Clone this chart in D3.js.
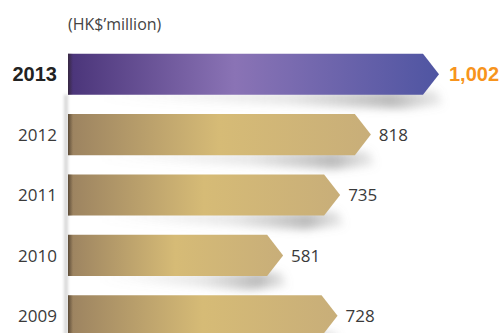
<!DOCTYPE html>
<html>
<head>
<meta charset="utf-8">
<script src="https://cdn.jsdelivr.net/npm/d3@7"></script>
<style>
  body { margin: 0; background: #fff; }
  #chart { width: 504px; height: 333px; overflow: hidden; }
  text { font-family: "Open Sans", "Noto Sans", sans-serif; }
</style>
</head>
<body>
<div id="chart"></div>
<script>
//Datos
const years = ['2013', '2012', '2011', '2010', '2009'];
const values = [1002, 818, 735, 581, 728];
const valueLabels = ['1,002', '818', '735', '581', '728'];
const unitLabel = "(HK$\u2019million)";

const width = 504, height = 333;
const REGULAR = '"Open Sans", "Noto Sans", sans-serif';
const BOLD = '"Liberation Sans", Arial, sans-serif';

let svg = d3.select('#chart')
    .append('svg')
    .attr('width', width)
    .attr('height', height);

let defs = svg.append('defs');

//Degradados
function addGradient(id, stops) {
    let g = defs.append('linearGradient')
        .attr('id', id)
        .attr('x1', '0%').attr('x2', '100%')
        .attr('y1', '0%').attr('y2', '0%');
    stops.forEach(function(s) {
        g.append('stop').attr('offset', s[0]).attr('stop-color', s[1]);
    });
}
addGradient('grad-purple', [['0%', '#4a3479'], ['45%', '#8a73b5'], ['100%', '#4f55a2']]);
addGradient('grad-gold', [['0%', '#9b8260'], ['50%', '#d6bb76'], ['100%', '#c8ae79']]);
addGradient('grad-edge', [['0%', 'rgba(40,30,20,0.55)'], ['100%', 'rgba(40,30,20,0)']]);

let shadowGrad = defs.append('linearGradient')
    .attr('id', 'grad-shadow')
    .attr('x1', '0%').attr('x2', '100%')
    .attr('y1', '0%').attr('y2', '0%');
shadowGrad.append('stop').attr('offset', '0%').attr('stop-color', '#999').attr('stop-opacity', 0);
shadowGrad.append('stop').attr('offset', '55%').attr('stop-color', '#888').attr('stop-opacity', 0.2);
shadowGrad.append('stop').attr('offset', '85%').attr('stop-color', '#777').attr('stop-opacity', 0.5);
shadowGrad.append('stop').attr('offset', '100%').attr('stop-color', '#888').attr('stop-opacity', 0.15);

defs.append('filter').attr('id', 'blur')
    .attr('x', '-20%').attr('y', '-100%').attr('width', '140%').attr('height', '300%')
    .append('feGaussianBlur').attr('stdDeviation', 4.5);

defs.append('filter').attr('id', 'blur-soft')
    .attr('x', '-100%').attr('y', '-10%').attr('width', '300%').attr('height', '120%')
    .append('feGaussianBlur').attr('stdDeviation', 1.5);

//Escalas
let x = d3.scaleLinear()
    .domain([0, 1002])
    .range([68, 439]);

let y = d3.scaleBand()
    .domain(years)
    .range([44, 346])
    .paddingInner(0.32)
    .paddingOuter(0.16);

const tipDepth = 16;
let bh = y.bandwidth();

//Unidad
svg.append('text')
    .attr('x', 68)
    .attr('y', 30)
    .attr('font-size', 16)
    .attr('fill', '#444')
    .text(unitLabel);

//Franja vertical izquierda
svg.append('rect')
    .attr('x', 64)
    .attr('y', y(years[0]) + bh)
    .attr('width', 4)
    .attr('height', height)
    .attr('fill', '#d8d8d8')
    .attr('filter', 'url(#blur-soft)');

let data = years.map(function(d, i) { return { year: d, value: values[i], label: valueLabels[i], i: i }; });

//Sombras
svg.selectAll('.shadow')
    .data(data)
    .enter()
    .append('path')
    .attr('class', 'shadow')
    .attr('fill', 'url(#grad-shadow)')
    .attr('filter', 'url(#blur)')
    .attr('d', function(d) {
        let x0 = x(0) + 30, x1 = x(d.value) + 4, yb = y(d.year) + bh;
        return 'M' + x0 + ',' + (yb - 2) + 'L' + (x1 - 6) + ',' + (yb - 4) +
            'L' + x1 + ',' + (yb + 10) + 'L' + (x1 - 40) + ',' + (yb + 14) + 'L' + x0 + ',' + (yb + 4) + 'Z';
    });

//Barras
function arrowPath(d) {
    let x0 = x(0), xt = x(d.value), y0 = y(d.year), y1 = y0 + bh;
    return 'M' + x0 + ',' + y0 +
        'L' + (xt - tipDepth) + ',' + y0 +
        'L' + xt + ',' + (y0 + bh / 2) +
        'L' + (xt - tipDepth) + ',' + y1 +
        'L' + x0 + ',' + y1 + 'Z';
}

svg.selectAll('.bar')
    .data(data)
    .enter()
    .append('path')
    .attr('class', 'bar')
    .attr('fill', function(d) { return d.i === 0 ? 'url(#grad-purple)' : 'url(#grad-gold)'; })
    .attr('d', arrowPath);

//Borde oscuro izquierdo
svg.selectAll('.edge')
    .data(data)
    .enter()
    .append('rect')
    .attr('class', 'edge')
    .attr('x', x(0))
    .attr('y', function(d) { return y(d.year); })
    .attr('width', 5)
    .attr('height', bh)
    .attr('fill', 'url(#grad-edge)');

//Años
svg.selectAll('.year')
    .data(data)
    .enter()
    .append('text')
    .attr('class', 'year')
    .attr('x', 57)
    .attr('y', function(d) { return y(d.year) + bh / 2; })
    .attr('dy', '0.36em')
    .attr('text-anchor', 'end')
    .style('font-family', function(d) { return d.i === 0 ? BOLD : REGULAR; })
    .attr('font-size', function(d) { return d.i === 0 ? 20 : 17; })
    .attr('font-weight', function(d) { return d.i === 0 ? 'bold' : 'normal'; })
    .attr('fill', function(d) { return d.i === 0 ? '#222' : '#3a3a3a'; })
    .text(function(d) { return d.year; });

//Valores
svg.selectAll('.value')
    .data(data)
    .enter()
    .append('text')
    .attr('class', 'value')
    .attr('x', function(d) { return x(d.value) + (d.i === 0 ? 10 : 8); })
    .attr('y', function(d) { return y(d.year) + bh / 2; })
    .attr('dy', '0.36em')
    .style('font-family', function(d) { return d.i === 0 ? BOLD : REGULAR; })
    .attr('font-size', function(d) { return d.i === 0 ? 20 : 17; })
    .attr('font-weight', function(d) { return d.i === 0 ? 'bold' : 'normal'; })
    .attr('fill', function(d) { return d.i === 0 ? '#f7941d' : '#3a3a3a'; })
    .text(function(d) { return d.label; });
</script>
</body>
</html>
